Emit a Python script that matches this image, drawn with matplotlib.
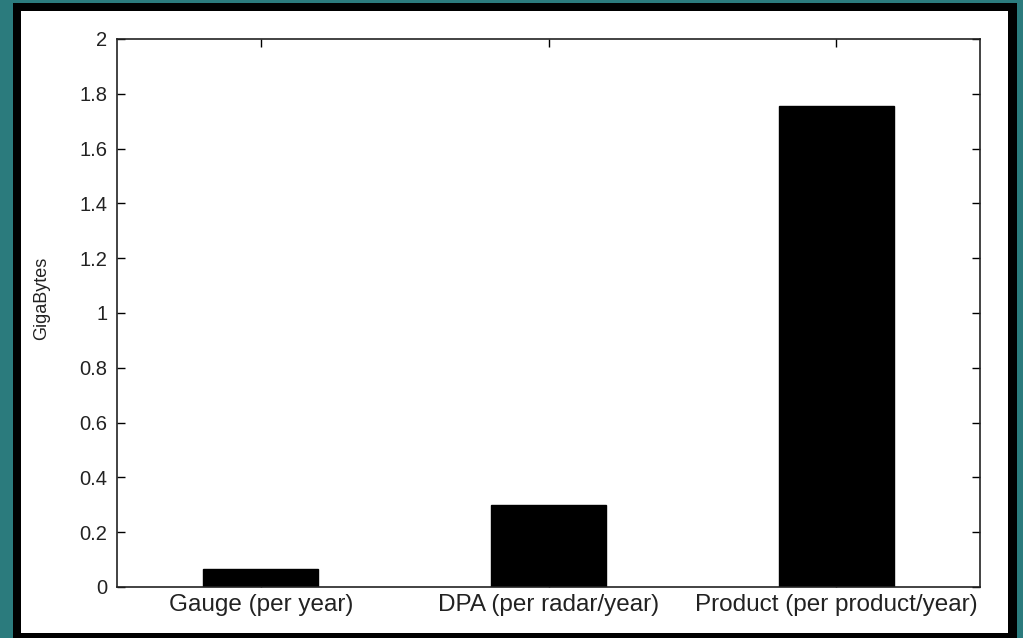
import matplotlib
matplotlib.use("Agg")
import matplotlib.pyplot as plt
from matplotlib.patches import Rectangle

categories = ["Gauge (per year)", "DPA (per radar/year)", "Product (per product/year)"]
gigabytes = [0.065, 0.30, 1.755]
yticks = [0, 0.2, 0.4, 0.6, 0.8, 1, 1.2, 1.4, 1.6, 1.8, 2]
ytick_labels = ["0", "0.2", "0.4", "0.6", "0.8", "1", "1.2", "1.4", "1.6", "1.8", "2"]

plt.rcParams['font.family'] = ['Liberation Sans', 'DejaVu Sans']

W, H = 1023, 638
fig = plt.figure(figsize=(W / 100, H / 100), dpi=100)
fig.patch.set_facecolor('#2b7b7d')

# black frame and white panel (slide-style border)
fig.patches.append(Rectangle((13 / W, 0), (1017 - 13) / W, (638 - 3) / H,
                             transform=fig.transFigure, facecolor='black',
                             edgecolor='none', zorder=-3))
fig.patches.append(Rectangle((21 / W, (638 - 633) / H), (1008 - 21) / W, (633 - 11) / H,
                             transform=fig.transFigure, facecolor='white',
                             edgecolor='none', zorder=-2))

ax = fig.add_axes([117 / W, (638 - 587) / H, (980 - 117) / W, (587 - 39) / H])
ax.set_facecolor('white')
pos = list(range(1, len(categories) + 1))
ax.bar(pos, gigabytes, width=0.4, color='black', edgecolor='black')

ax.set_xlim(0.5, 3.5)
ax.set_ylim(0, 2)
ax.set_xticks(pos)
ax.set_xticklabels(categories, fontsize=17.5, color='#222222')
ax.set_yticks(yticks)
ax.set_yticklabels(ytick_labels, fontsize=14.5, color='#222222')
ax.tick_params(direction='in', length=6, width=1, top=True, right=True)
ax.tick_params(axis='x', pad=5)
ax.tick_params(axis='y', pad=7)
for s in ax.spines.values():
    s.set_linewidth(1.2)
    s.set_color('#222222')
ax.set_ylabel("GigaBytes", fontsize=13, color='#222222')
ax.yaxis.set_label_coords(-0.078, 0.527)

fig.savefig("out.png", dpi=100, facecolor=fig.get_facecolor())
